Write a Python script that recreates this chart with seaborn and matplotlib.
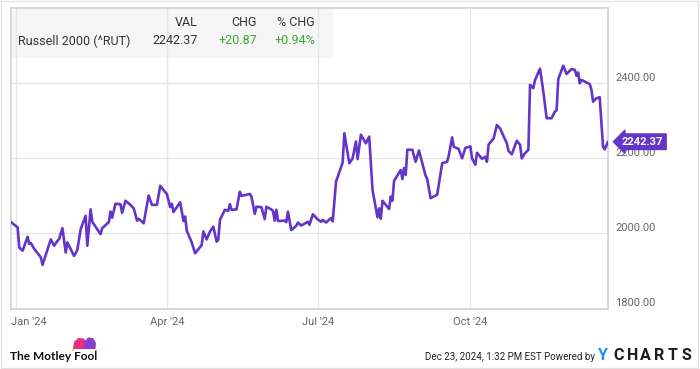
import matplotlib
matplotlib.use("Agg")
import matplotlib.pyplot as plt
import matplotlib.transforms as mtransforms
from matplotlib.patches import Rectangle, Polygon, Circle
import seaborn as sns
import pandas as pd

# ---------------- data ----------------
dates = [
    "2023-12-29", "2024-01-02", "2024-01-03", "2024-01-05", "2024-01-08", "2024-01-09",
    "2024-01-10", "2024-01-12", "2024-01-16", "2024-01-17", "2024-01-19", "2024-01-22",
    "2024-01-24", "2024-01-26", "2024-01-27", "2024-01-29", "2024-01-31", "2024-02-01",
    "2024-02-05", "2024-02-07", "2024-02-09", "2024-02-12", "2024-02-13", "2024-02-15",
    "2024-02-16", "2024-02-21", "2024-02-22", "2024-02-26", "2024-02-27", "2024-02-28",
    "2024-03-01", "2024-03-04", "2024-03-05", "2024-03-07", "2024-03-10", "2024-03-12",
    "2024-03-14", "2024-03-15", "2024-03-18", "2024-03-21", "2024-03-23", "2024-03-26",
    "2024-03-28", "2024-03-31", "2024-04-01", "2024-04-03", "2024-04-04", "2024-04-05",
    "2024-04-09", "2024-04-11", "2024-04-12", "2024-04-13", "2024-04-16", "2024-04-18",
    "2024-04-20", "2024-04-22", "2024-04-23", "2024-04-25", "2024-04-27", "2024-04-29",
    "2024-05-01", "2024-05-02", "2024-05-03", "2024-05-06", "2024-05-08", "2024-05-09",
    "2024-05-10", "2024-05-13", "2024-05-15", "2024-05-16", "2024-05-21", "2024-05-22",
    "2024-05-24", "2024-05-25", "2024-05-28", "2024-05-30", "2024-05-31", "2024-06-03",
    "2024-06-04", "2024-06-05", "2024-06-06", "2024-06-07", "2024-06-11", "2024-06-12",
    "2024-06-13", "2024-06-15", "2024-06-18", "2024-06-19", "2024-06-21", "2024-06-25",
    "2024-06-26", "2024-06-28", "2024-07-01", "2024-07-03", "2024-07-04", "2024-07-06",
    "2024-07-09", "2024-07-10", "2024-07-12", "2024-07-16", "2024-07-17", "2024-07-20",
    "2024-07-22", "2024-07-24", "2024-07-25", "2024-07-27", "2024-07-30", "2024-08-01",
    "2024-08-03", "2024-08-06", "2024-08-07", "2024-08-08", "2024-08-09", "2024-08-13",
    "2024-08-14", "2024-08-15", "2024-08-16", "2024-08-20", "2024-08-21", "2024-08-22",
    "2024-08-23", "2024-08-24", "2024-08-27", "2024-08-29", "2024-08-31", "2024-09-04",
    "2024-09-05", "2024-09-07", "2024-09-11", "2024-09-14", "2024-09-17", "2024-09-18",
    "2024-09-20", "2024-09-21", "2024-09-24", "2024-09-26", "2024-09-28", "2024-10-01",
    "2024-10-02", "2024-10-04", "2024-10-05", "2024-10-08", "2024-10-10", "2024-10-11",
    "2024-10-12", "2024-10-15", "2024-10-17", "2024-10-19", "2024-10-23", "2024-10-24",
    "2024-10-26", "2024-10-29", "2024-10-31", "2024-11-01", "2024-11-03", "2024-11-05",
    "2024-11-06", "2024-11-08", "2024-11-09", "2024-11-12", "2024-11-14", "2024-11-16",
    "2024-11-19", "2024-11-21", "2024-11-22", "2024-11-23", "2024-11-26", "2024-11-28",
    "2024-12-01", "2024-12-03", "2024-12-04", "2024-12-05", "2024-12-06", "2024-12-07",
    "2024-12-12", "2024-12-13", "2024-12-14", "2024-12-16", "2024-12-18", "2024-12-19",
    "2024-12-20", "2024-12-21", "2024-12-23",
]

values = [
    2028, 2014, 1960, 1952, 1989, 1970,
    1972, 1957, 1934, 1914, 1941, 1982,
    1965, 1978, 1983, 2012, 1947, 1974,
    1938, 1954, 2009, 2045, 1965, 2062,
    2029, 1996, 2012, 2028, 2056, 2040,
    2077, 2076, 2053, 2085, 2074, 2065,
    2032, 2037, 2025, 2099, 2074, 2074,
    2125, 2108, 2103, 2068, 2077, 2055,
    2081, 2031, 2043, 2005, 1974, 1945,
    1956, 1967, 2003, 1982, 2003, 2016,
    1976, 1981, 2034, 2061, 2058, 2076,
    2061, 2062, 2109, 2098, 2103, 2096,
    2050, 2069, 2068, 2036, 2069, 2062,
    2058, 2032, 2061, 2031, 2032, 2028,
    2056, 2007, 2018, 2027, 2019, 2029,
    2021, 2049, 2035, 2029, 2034, 2027,
    2039, 2030, 2136, 2187, 2265, 2185,
    2198, 2243, 2196, 2261, 2238, 2256,
    2114, 2041, 2065, 2037, 2085, 2063,
    2096, 2085, 2138, 2167, 2143, 2172,
    2154, 2221, 2221, 2189, 2219, 2152,
    2143, 2092, 2101, 2185, 2189, 2206,
    2254, 2229, 2223, 2198, 2226, 2230,
    2198, 2181, 2213, 2197, 2202, 2189,
    2235, 2251, 2287, 2277, 2238, 2218,
    2209, 2245, 2234, 2198, 2212, 2221,
    2394, 2385, 2407, 2437, 2376, 2305,
    2305, 2323, 2326, 2409, 2445, 2423,
    2436, 2434, 2418, 2427, 2398, 2407,
    2396, 2381, 2349, 2358, 2361, 2296,
    2229, 2222, 2242.37,
]

y_ticks = [1800, 2000, 2200, 2400]
x_tick_dates = ["2024-01-01", "2024-04-01", "2024-07-01", "2024-10-01"]
x_tick_labels = ["Jan '24", "Apr '24", "Jul '24", "Oct '24"]

series_name = "Russell 2000 (^RUT)"
header_cols = ["VAL", "CHG", "% CHG"]
row_vals = ["2242.37", "+20.87", "+0.94%"]
end_label = "2242.37"
footer_left = "The Motley Fool"
footer_right = "Dec 23, 2024, 1:32 PM EST Powered by"

# ---------------- style ----------------
PURPLE = "#6435c9"
GREEN = "#3aa83a"
GRID = "#e6e6e6"
BORDER = "#d2d2d2"
TXT = "#333333"
AXTXT = "#666666"

sns.set_theme(style="white")
plt.rcParams["font.family"] = ["Roboto", "DejaVu Sans"]

W, H = 700, 369
fig = plt.figure(figsize=(W / 100, H / 100), dpi=100)


def fx(px):
    return px / W


def fy(py):
    return 1 - py / H


ax = fig.add_axes([fx(11), fy(309), fx(608) - fx(11), fy(8.3) - fy(309)])

df = pd.DataFrame({"date": pd.to_datetime(dates), "value": values})
sns.lineplot(data=df, x="date", y="value", ax=ax, color=PURPLE, linewidth=1.9, zorder=5)

ax.set_xlim(df["date"].iloc[0], df["date"].iloc[-1])
ax.set_ylim(1796.5, 2598)
ax.set_xlabel("")
ax.set_ylabel("")

ax.set_yticks(y_ticks)
ax.set_xticks(pd.to_datetime(x_tick_dates))
ax.tick_params(length=0, labelleft=False, labelbottom=False)
ax.set_axisbelow(True)
ax.grid(True, color=GRID, linewidth=1)
for s in ax.spines.values():
    s.set_color(BORDER)
    s.set_linewidth(1.2)

# right-side y labels (slightly above their grid lines)
ytrans = mtransforms.blended_transform_factory(ax.transAxes, ax.transData)
for v in y_ticks:
    ax.text(1, v, f"{v:.2f}", transform=ytrans + mtransforms.ScaledTranslation(7 / 100, 5 / 100, fig.dpi_scale_trans),
            ha="left", va="center", color=AXTXT, fontsize=8, clip_on=False)

# x labels
xtrans = mtransforms.blended_transform_factory(ax.transData, ax.transAxes)
for i, (d, lab) in enumerate(zip(pd.to_datetime(x_tick_dates), x_tick_labels)):
    if i == 0:
        ax.text(d, 0, lab, transform=xtrans + mtransforms.ScaledTranslation(-5 / 100, -13 / 100, fig.dpi_scale_trans),
                ha="left", va="center", color=AXTXT, fontsize=8, clip_on=False)
    else:
        ax.text(d, 0, lab, transform=xtrans + mtransforms.ScaledTranslation(0, -13 / 100, fig.dpi_scale_trans),
                ha="center", va="center", color=AXTXT, fontsize=8, clip_on=False)

# legend box
ax.add_patch(Rectangle((fx(11), fy(58)), fx(333) - fx(11), fy(8.3) - fy(58),
                       transform=fig.transFigure, facecolor="#f6f6f6", edgecolor="none", zorder=0.2))
fig.text(fx(18), fy(41), series_name, ha="left", va="center", color=TXT, fontsize=9)
for xr, h, v in zip([198, 257, 315], header_cols, row_vals):
    fig.text(fx(xr), fy(22), h, ha="right", va="center", color=TXT, fontsize=9)
    fig.text(fx(xr), fy(41), v, ha="right", va="center",
             color=(GREEN if v.startswith("+") else TXT), fontsize=9)

# end-value flag
ax.annotate(end_label, xy=(df["date"].iloc[-1], df["value"].iloc[-1]), xytext=(10, 0),
            textcoords="offset points", ha="left", va="center", color="white",
            fontsize=8, fontweight="bold", annotation_clip=False, zorder=10,
            bbox=dict(boxstyle="larrow,pad=0.25", fc=PURPLE, ec=PURPLE))

# footer: Motley Fool logo
fig.text(fx(10), fy(357), footer_left, ha="left", va="center", color="#111111",
         fontsize=8.6, fontweight="bold", family=["Lato", "DejaVu Sans"])
pink = [(73, 349), (74, 342), (78, 338), (84, 338.5), (86, 343), (85, 349)]
purple = [(84, 349), (84, 342), (88, 337.5), (93, 338), (96, 343), (95.5, 349)]
fig.patches.append(Polygon([(fx(a), fy(b)) for a, b in pink], closed=True, transform=fig.transFigure,
                           facecolor="#e8317a", edgecolor="none"))
fig.patches.append(Polygon([(fx(a), fy(b)) for a, b in purple], closed=True, transform=fig.transFigure,
                           facecolor="#8a3fcf", edgecolor="none"))
for a, b in [(73, 350), (96, 350)]:
    fig.patches.append(Circle((fx(a), fy(b)), 1.3 / W, transform=fig.transFigure,
                              facecolor="#f5c400", edgecolor="none"))

# footer: timestamp + YCHARTS
fig.text(fx(595), fy(357), footer_right, ha="right", va="center", color="#222222", fontsize=7)
fig.text(fx(598), fy(356), "Y", ha="left", va="center", color="#1f8ef1", fontsize=11.5, fontweight="bold")
letters = "CHARTS"
for i, ch in enumerate(letters):
    fig.text(fx(613 + i * 13.6), fy(356), ch, ha="left", va="center", color="#1d1d1d",
             fontsize=11.5, fontweight="bold")

# outer frame
fig.patches.append(Rectangle((fx(1), fy(368)), fx(698) - fx(1), fy(1) - fy(368), transform=fig.transFigure,
                             fill=False, edgecolor="#e2e2e2", linewidth=1))

fig.savefig("out.png", dpi=100)
